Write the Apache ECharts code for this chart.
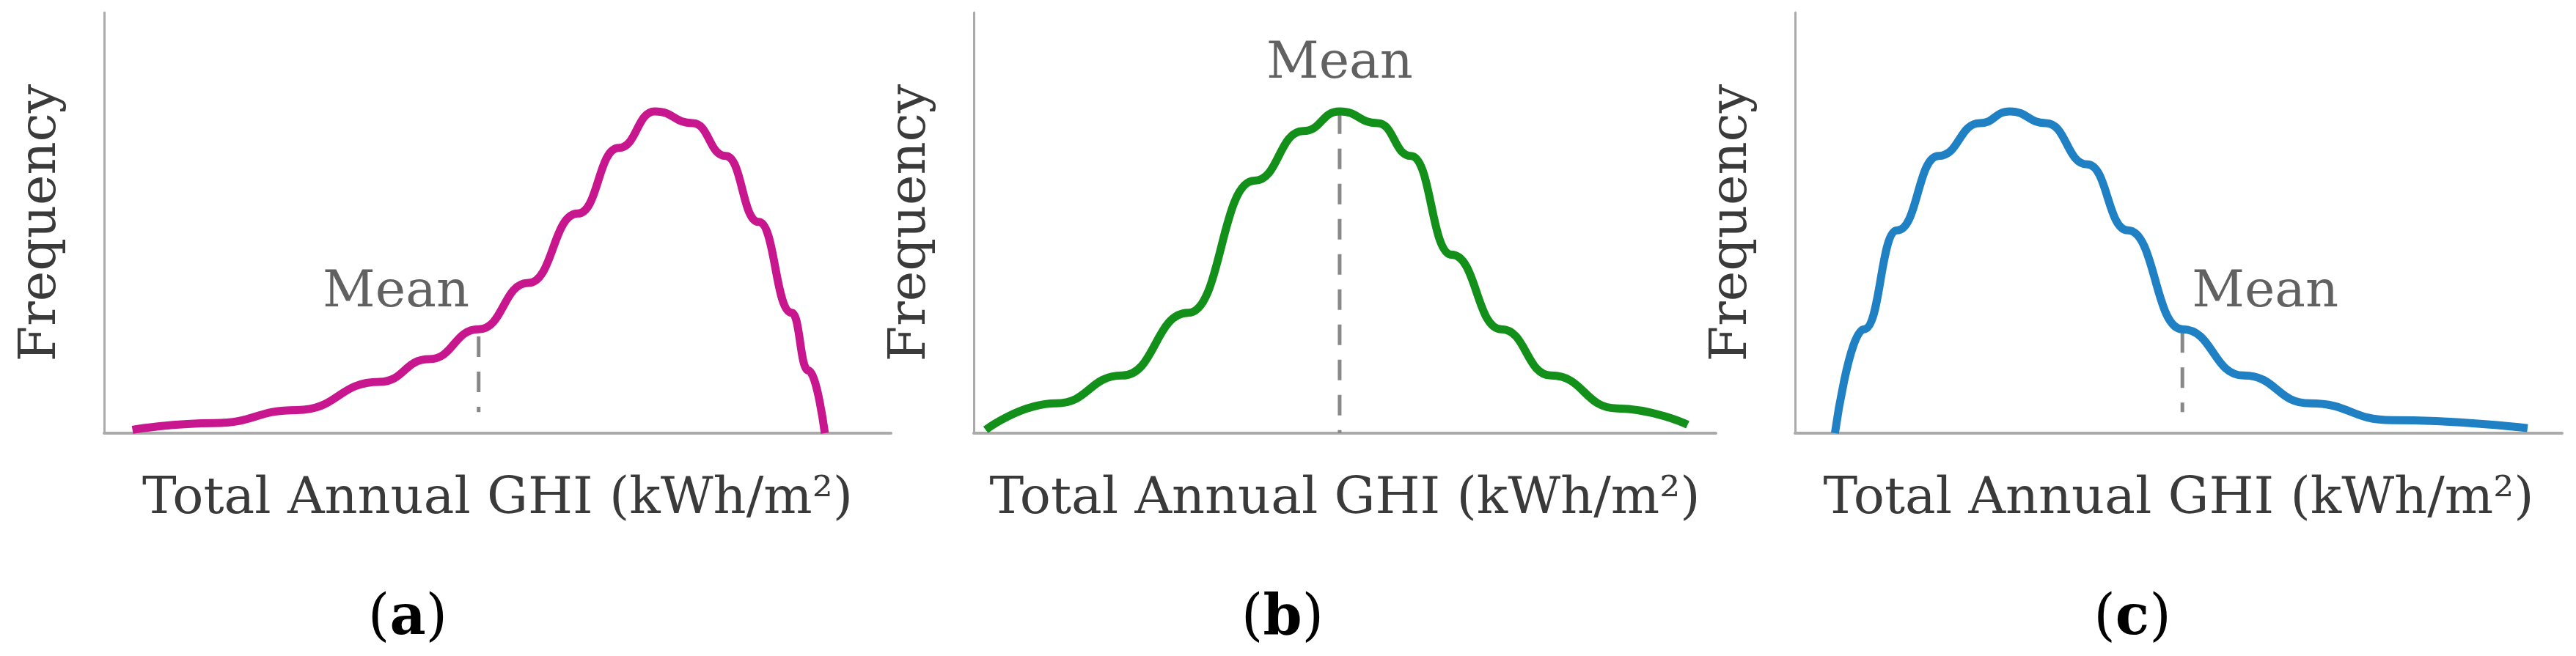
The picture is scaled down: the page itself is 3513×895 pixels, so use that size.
<!DOCTYPE html>
<html><head><meta charset="utf-8">
<script src="https://cdn.jsdelivr.net/npm/echarts@6/dist/echarts.min.js"></script>
<style>html,body{margin:0;padding:0;background:#fff}#c{width:3513px;height:895px}</style>
</head><body><div id="c"></div>
<script>
const panelLabels = ['a', 'b', 'c'];
const xAxisTitle = 'Total Annual GHI (kWh/m²)';
const yAxisTitle = 'Frequency';
const curveA = [[3.6,0.8],[14.0,2.4],[24.5,5.5],[35.0,12.2],[41.3,17.6],[47.6,24.7],[53.9,35.7],[60.2,52.2],[65.4,67.8],[70.0,76.5],[74.8,73.7],[79.0,65.9],[83.2,50.2],[87.4,28.6],[89.5,14.9],[91.6,0]];
const curveB = [[1.6,0.8],[11.1,7.1],[20,13.7],[28.9,28.6],[37.8,60],[44.4,71.8],[49.3,76.5],[54.4,73.7],[58.9,65.9],[64.4,42.4],[71.1,24.7],[77.8,13.7],[86.7,5.9],[96.2,2.0]];
const curveC = [[5.2,0],[9.0,24.7],[13.3,48.2],[18.7,65.9],[24.1,73.7],[28.0,76.5],[32.7,73.7],[38.1,63.9],[43.4,48.2],[50.5,24.7],[58.5,13.7],[67.1,7.1],[77.8,3.1],[95.5,1.2]];
const meanX = [47.6, 49.3, 50.5];
const meanTop = [23, 76, 24];
const meanBottom = [5, 0, 5];
const meanLabelPos = [[37.1, 33.3], [49.3, 87.6], [61.3, 33.3]];
const curves = [curveA, curveB, curveC];
const colors = ['#C8168E', '#12901A', '#1F80C4'];

const grids = [
  {left:142, top:17, width:1073, height:574},
  {left:1328, top:17, width:1012, height:574},
  {left:2448, top:17, width:1046, height:574}
];
const labelX = [551, 1744, 2903];
const font = 'DejaVu Serif';
const txt = '#3a3a3a';
const chart = echarts.init(document.getElementById('c'));
const xAxis = [], yAxis = [], series = [], title = [];
for (let i = 0; i < 3; i++) {
  xAxis.push({type:'value', gridIndex:i, min:0, max:100, name:xAxisTitle, nameLocation:'middle', nameGap:56,
    nameTextStyle:{fontFamily:font, fontSize:70, color:txt},
    axisLine:{show:true, lineStyle:{color:'#aaa', width:4}}, axisTick:{show:false}, axisLabel:{show:false}, splitLine:{show:false}});
  yAxis.push({type:'value', gridIndex:i, min:0, max:100, name:yAxisTitle, nameLocation:'middle', nameGap:50,
    nameTextStyle:{fontFamily:font, fontSize:70, color:txt},
    axisLine:{show:true, lineStyle:{color:'#aaa', width:3}}, axisTick:{show:false}, axisLabel:{show:false}, splitLine:{show:false}});
  series.push({type:'line', xAxisIndex:i, yAxisIndex:i, data:curves[i], smooth:true, smoothMonotone:'x', symbol:'none',
    lineStyle:{color:colors[i], width:11}, z:3});
  series.push({type:'line', xAxisIndex:i, yAxisIndex:i, data:[[meanX[i], meanTop[i]],[meanX[i], meanBottom[i]]], symbol:'none',
    lineStyle:{color:'#888', width:5, type:[28,20]}, z:2});
  series.push({type:'scatter', xAxisIndex:i, yAxisIndex:i, data:[meanLabelPos[i]], symbolSize:0,
    label:{show:true, position:'inside', formatter:'Mean', fontFamily:font, fontSize:70, color:txt}});
  title.push({text:'({b|' + panelLabels[i] + '})', left:labelX[i], top:840, textAlign:'center', textVerticalAlign:'middle',
    textStyle:{fontFamily:font, fontSize:76, fontWeight:'normal', color:'#000',
      rich:{b:{fontFamily:font, fontSize:76, fontWeight:'bold', color:'#000'}}}});
}
chart.setOption({animation:false, title, grid:grids, xAxis, yAxis, series});
</script></body></html>
